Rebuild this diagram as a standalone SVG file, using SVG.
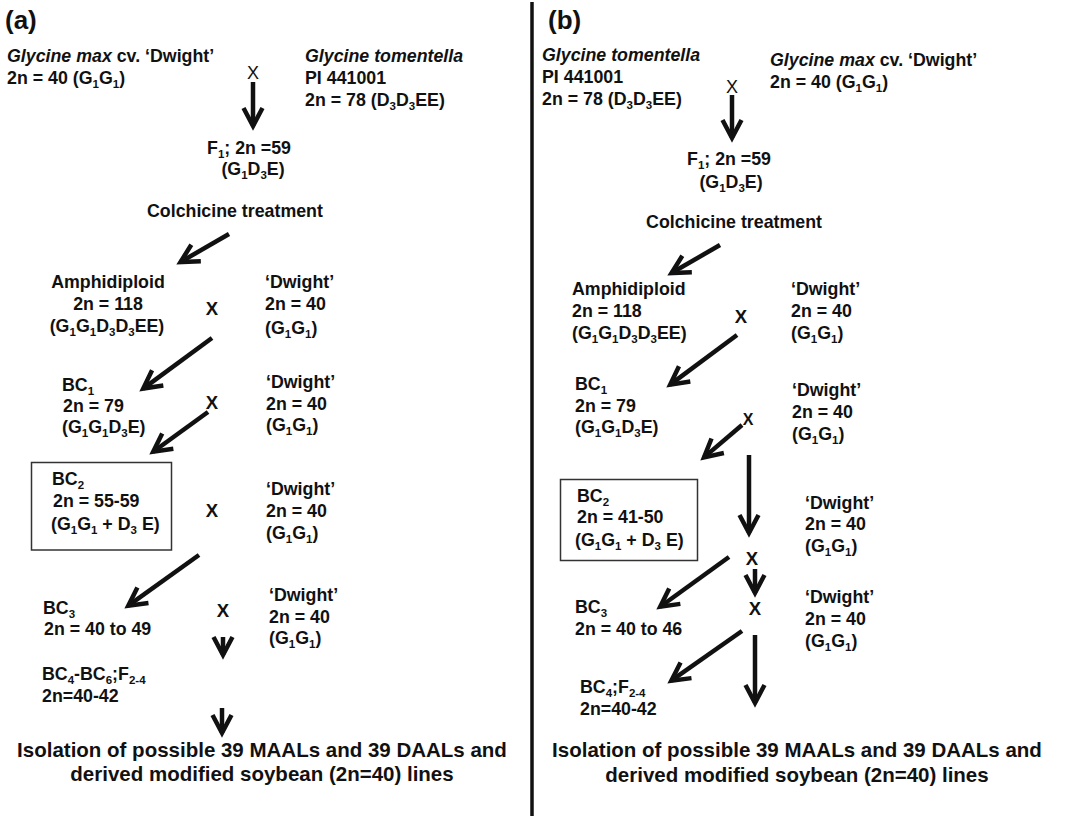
<svg xmlns="http://www.w3.org/2000/svg" width="1065" height="816" viewBox="0 0 1065 816">
<style>
text { font-family: "Liberation Sans", Arial, Helvetica, sans-serif; font-weight: bold; font-size: 17.8px; fill: #111; }
.i { font-style: italic; }
.s { font-size: 11.5px; baseline-shift: -4px; }
.m { text-anchor: middle; }
.lbl { font-size: 26px; }
.x { font-size: 18.5px; text-anchor: middle; }
.x0 { font-size: 18px; font-weight: normal; text-anchor: middle; }
.xs { font-size: 16px; text-anchor: middle; }
.big { font-size: 20.5px; text-anchor: middle; }
.arr { stroke: #111; stroke-width: 4.5; fill: none; marker-end: url(#ah); }
.box { fill: #fff; stroke: #333; stroke-width: 1.5; }
.div { stroke: #111; stroke-width: 3.5; }
</style>
<defs>
<marker id="ah" viewBox="-26 -16 32 32" refX="0" refY="0" markerWidth="32" markerHeight="32" markerUnits="userSpaceOnUse" orient="auto" overflow="visible">
<path d="M -18 -9.5 L 0 0 L -18 9.5" fill="none" stroke="#111" stroke-width="4.5" stroke-linejoin="miter"/>
</marker>
</defs>
<rect width="1065" height="816" fill="#fff"/>
<line class="div" x1="532" y1="2" x2="532" y2="816"/>

<!-- Panel (a) -->
<g id="a-label"><text class="lbl" x="5" y="29">(a)</text></g>
<g id="a-gmax">
<text x="7" y="62"><tspan class="i">Glycine max</tspan> cv. ‘Dwight’</text>
<text x="7" y="84">2n = 40 (G<tspan class="s">1</tspan>G<tspan class="s">1</tspan>)</text>
</g>
<g id="a-gtom">
<text x="305" y="62" class="i">Glycine tomentella</text>
<text x="305" y="84">PI 441001</text>
<text x="305" y="106">2n = 78 (D<tspan class="s">3</tspan>D<tspan class="s">3</tspan>EE)</text>
</g>
<g id="a-x1"><text class="x0" x="253" y="79">X</text></g>
<g id="a-f1">
<text class="m" x="249" y="154">F<tspan class="s">1</tspan>; 2n =59</text>
<text class="m" x="253" y="175">(G<tspan class="s">1</tspan>D<tspan class="s">3</tspan>E)</text>
</g>
<g id="a-colch"><text x="147" y="217">Colchicine treatment</text></g>
<g id="a-amph">
<text class="m" x="108" y="288">Amphidiploid</text>
<text class="m" x="108" y="310">2n = 118</text>
<text class="m" x="107" y="332">(G<tspan class="s">1</tspan>G<tspan class="s">1</tspan>D<tspan class="s">3</tspan>D<tspan class="s">3</tspan>EE)</text>
</g>
<g id="a-x2"><text class="x" x="212" y="315">X</text></g>
<g id="a-dw1">
<text x="265" y="288">‘Dwight’</text>
<text x="265" y="310">2n = 40</text>
<text x="265" y="334">(G<tspan class="s">1</tspan>G<tspan class="s">1</tspan>)</text>
</g>
<g id="a-bc1">
<text x="62" y="391">BC<tspan class="s">1</tspan></text>
<text x="63" y="412">2n = 79</text>
<text x="62" y="433">(G<tspan class="s">1</tspan>G<tspan class="s">1</tspan>D<tspan class="s">3</tspan>E)</text>
</g>
<g id="a-x3"><text class="x" x="212" y="409">X</text></g>
<g id="a-dw2">
<text x="266" y="388">‘Dwight’</text>
<text x="266" y="410">2n = 40</text>
<text x="266" y="431">(G<tspan class="s">1</tspan>G<tspan class="s">1</tspan>)</text>
</g>
<g id="a-bc2">
<rect class="box" x="31.5" y="462.5" width="140" height="87.5"/>
<text x="52" y="485">BC<tspan class="s">2</tspan></text>
<text x="53" y="507">2n = 55-59</text>
<text x="51" y="530">(G<tspan class="s">1</tspan>G<tspan class="s">1</tspan> + D<tspan class="s">3</tspan> E)</text>
</g>
<g id="a-x4"><text class="x" x="212" y="517">X</text></g>
<g id="a-dw3">
<text x="266" y="495">‘Dwight’</text>
<text x="266" y="517">2n = 40</text>
<text x="266" y="539">(G<tspan class="s">1</tspan>G<tspan class="s">1</tspan>)</text>
</g>
<g id="a-bc3">
<text x="43" y="614">BC<tspan class="s">3</tspan></text>
<text x="44" y="635">2n = 40 to 49</text>
</g>
<g id="a-x5"><text class="x" x="223" y="617">X</text></g>
<g id="a-dw4">
<text x="269" y="601">‘Dwight’</text>
<text x="269" y="623">2n = 40</text>
<text x="269" y="644">(G<tspan class="s">1</tspan>G<tspan class="s">1</tspan>)</text>
</g>
<g id="a-bc4">
<text x="42" y="680">BC<tspan class="s">4</tspan>-BC<tspan class="s">6</tspan>;F<tspan class="s">2-4</tspan></text>
<text x="42" y="702">2n=40-42</text>
</g>
<g id="a-iso">
<text class="big" x="262" y="757">Isolation of possible 39 MAALs and 39 DAALs and</text>
<text class="big" x="262" y="781">derived modified soybean (2n=40) lines</text>
</g>

<!-- Panel (b) -->
<g id="b-label"><text class="lbl" x="548" y="29">(b)</text></g>
<g id="b-gtom">
<text x="542" y="61" class="i">Glycine tomentella</text>
<text x="542" y="83">PI 441001</text>
<text x="542" y="105">2n = 78 (D<tspan class="s">3</tspan>D<tspan class="s">3</tspan>EE)</text>
</g>
<g id="b-gmax">
<text x="770" y="66"><tspan class="i">Glycine max</tspan> cv. ‘Dwight’</text>
<text x="770" y="88">2n = 40 (G<tspan class="s">1</tspan>G<tspan class="s">1</tspan>)</text>
</g>
<g id="b-x1"><text class="x0" x="732" y="93">X</text></g>
<g id="b-f1">
<text class="m" x="729" y="165">F<tspan class="s">1</tspan>; 2n =59</text>
<text class="m" x="731" y="188">(G<tspan class="s">1</tspan>D<tspan class="s">3</tspan>E)</text>
</g>
<g id="b-colch"><text class="m" x="734" y="228">Colchicine treatment</text></g>
<g id="b-amph">
<text x="572" y="295">Amphidiploid</text>
<text x="572" y="317">2n = 118</text>
<text x="572" y="339">(G<tspan class="s">1</tspan>G<tspan class="s">1</tspan>D<tspan class="s">3</tspan>D<tspan class="s">3</tspan>EE)</text>
</g>
<g id="b-x2"><text class="x" x="741" y="323">X</text></g>
<g id="b-dw1">
<text x="791" y="295">‘Dwight’</text>
<text x="791" y="317">2n = 40</text>
<text x="791" y="339">(G<tspan class="s">1</tspan>G<tspan class="s">1</tspan>)</text>
</g>
<g id="b-bc1">
<text x="575" y="390">BC<tspan class="s">1</tspan></text>
<text x="575" y="412">2n = 79</text>
<text x="575" y="433">(G<tspan class="s">1</tspan>G<tspan class="s">1</tspan>D<tspan class="s">3</tspan>E)</text>
</g>
<g id="b-x3"><text class="xs" x="748" y="425">X</text></g>
<g id="b-dw2">
<text x="792" y="396">‘Dwight’</text>
<text x="792" y="418">2n = 40</text>
<text x="792" y="440">(G<tspan class="s">1</tspan>G<tspan class="s">1</tspan>)</text>
</g>
<g id="b-bc2">
<rect class="box" x="560.5" y="479.5" width="137" height="81"/>
<text x="577" y="502">BC<tspan class="s">2</tspan></text>
<text x="577" y="523">2n = 41-50</text>
<text x="575" y="546">(G<tspan class="s">1</tspan>G<tspan class="s">1</tspan> + D<tspan class="s">3</tspan> E)</text>
</g>
<g id="b-x4"><text class="x" x="752" y="565">X</text></g>
<g id="b-dw3">
<text x="805" y="509">‘Dwight’</text>
<text x="805" y="530">2n = 40</text>
<text x="805" y="552">(G<tspan class="s">1</tspan>G<tspan class="s">1</tspan>)</text>
</g>
<g id="b-x5"><text class="x" x="755" y="615">X</text></g>
<g id="b-dw4">
<text x="805" y="603">‘Dwight’</text>
<text x="805" y="625">2n = 40</text>
<text x="805" y="647">(G<tspan class="s">1</tspan>G<tspan class="s">1</tspan>)</text>
</g>
<g id="b-bc3">
<text x="575" y="613">BC<tspan class="s">3</tspan></text>
<text x="575" y="635">2n = 40 to 46</text>
</g>
<g id="b-bc4">
<text x="580" y="693">BC<tspan class="s">4</tspan>;F<tspan class="s">2-4</tspan></text>
<text x="580" y="715">2n=40-42</text>
</g>
<g id="b-iso">
<text class="big" x="797" y="757">Isolation of possible 39 MAALs and 39 DAALs and</text>
<text class="big" x="797" y="782">derived modified soybean (2n=40) lines</text>
</g>

<g id="connectors">
<path class="arr" d="M253 82 L253 126"/>
<path class="arr" d="M229 234 L180.5 262"/>
<path class="arr" d="M212 338 L143.2 388.6"/>
<path class="arr" d="M208 412 L153.2 451.7"/>
<path class="arr" d="M199 555 L128.3 605.7"/>
<path class="arr" d="M223 637 L223 655"/>
<path class="arr" d="M222 708 L222 733"/>
<path class="arr" d="M732 95 L732 138"/>
<path class="arr" d="M720 245 L671.5 273"/>
<path class="arr" d="M737 335 L670.2 384.6"/>
<path class="arr" d="M742 425 L704 457.4"/>
<path class="arr" d="M749 455 L749 533"/>
<path class="arr" d="M755 569 L755 593"/>
<path class="arr" d="M729 557 L660.2 606.7"/>
<path class="arr" d="M742 631 L671.3 680.7"/>
<path class="arr" d="M755 635 L755 703"/>
</g>
</svg>
